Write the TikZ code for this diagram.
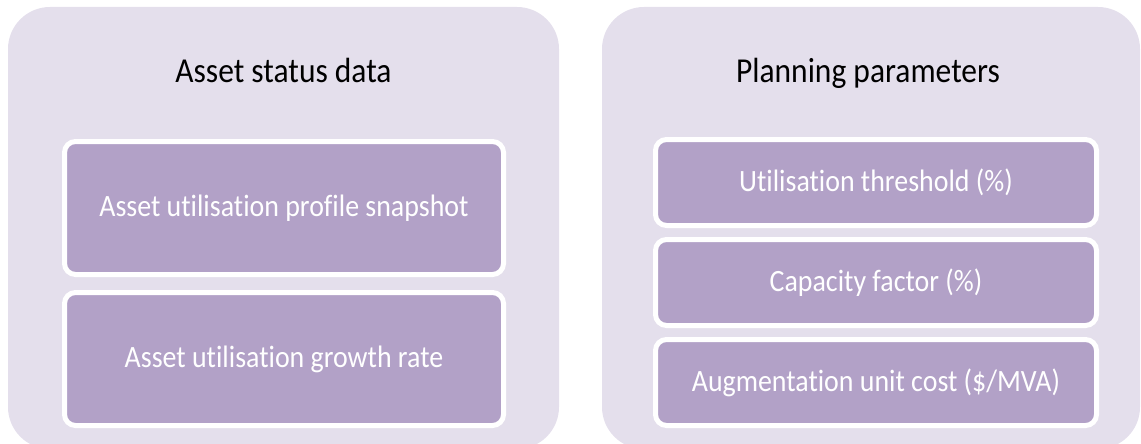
\documentclass[tikz,border=0pt]{standalone}
\usepackage{fontspec}
\setmainfont{Carlito}[FakeStretch=0.9,Ligatures=NoCommon]
\usetikzlibrary{positioning}
\definecolor{panelfill}{HTML}{E4DFEC}
\definecolor{itemfill}{HTML}{B2A1C7}

\begin{document}
\begin{tikzpicture}[x=1pt,y=-1pt,
panel/.style={fill=panelfill,rounded corners=42pt,minimum height=442pt},
heading/.style={font=\fontsize{35}{40}\selectfont,text=black,anchor=base},
item/.style={fill=itemfill,draw=white,line width=5pt,rounded corners=11pt,
text=white,font=\fontsize{31}{36}\selectfont,inner sep=0pt}]
\useasboundingbox (0,0) rectangle (1141,444);
\node[panel,minimum width=551pt] (status) at (283.5,228) {};
\node[panel,minimum width=538pt] (planning) at (871,228) {};
\node[heading] (statushead) at (283.5,83) {Asset status data};
\node[heading] (planninghead) at (868,83) {Planning parameters};
\node[item,minimum width=439pt,minimum height=133pt] (snapshot) at (284,208) {Asset utilisation profile snapshot};
\node[item,minimum width=439pt,minimum height=133pt,below=13pt of snapshot] (growth) {Asset utilisation growth rate};
\node[item,minimum width=441pt,minimum height=86pt] (threshold) at (876,182.5) {Utilisation threshold (\%)};
\node[item,minimum width=441pt,minimum height=86pt,below=9pt of threshold] (capacity) {Capacity factor (\%)};
\node[item,minimum width=441pt,minimum height=86pt,below=9pt of capacity] (unitcost) {Augmentation unit cost (\$/MVA)};
\end{tikzpicture}
\end{document}
